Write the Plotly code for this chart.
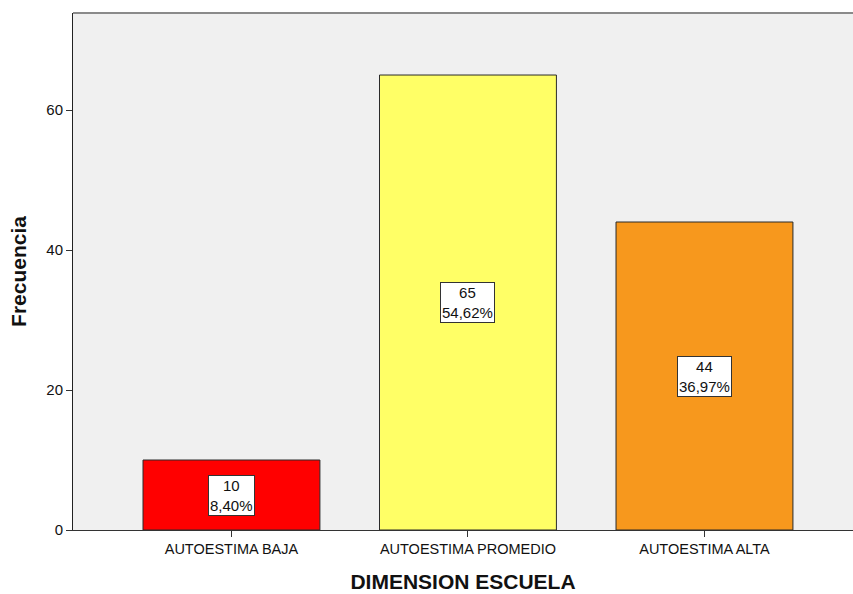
import plotly.graph_objects as go

categories = ["AUTOESTIMA BAJA", "AUTOESTIMA PROMEDIO", "AUTOESTIMA ALTA"]
counts = [10, 65, 44]
percent_labels = ["8,40%", "54,62%", "36,97%"]
colors = ["#FF0000", "#FFFF66", "#F7981D"]
y_ticks = [0, 20, 40, 60]

fig = go.Figure()
fig.add_trace(go.Bar(
    x=list(range(len(categories))), y=counts,
    width=0.748,
    marker=dict(color=colors, line=dict(color="#2a2a2a", width=1)),
    hoverinfo="skip",
))

for i, (c, p) in enumerate(zip(counts, percent_labels)):
    fig.add_annotation(
        x=i, y=c / 2, xref="x", yref="y",
        text=f"{c}<br>{p}", showarrow=False,
        font=dict(family="Liberation Sans, Arial", size=15, color="#111"),
        bgcolor="white", bordercolor="#333", borderwidth=1, borderpad=1,
        align="center",
    )

fig.add_shape(type="line", xref="paper", yref="paper", x0=0, x1=1, y0=1, y1=1,
              line=dict(color="#8a8a8a", width=2))

fig.update_layout(
    width=853, height=594,
    margin=dict(l=73, r=0, t=13, b=64),
    paper_bgcolor="white", plot_bgcolor="#F0F0F0",
    showlegend=False,
    font=dict(family="Liberation Sans, Arial", size=12, color="#111"),
    xaxis=dict(
        range=[-0.67, 2.628], tickmode="array",
        tickvals=list(range(len(categories))), ticktext=categories,
        ticks="outside", ticklen=6, tickcolor="#333", tickwidth=1,
        showline=True, linecolor="#333", linewidth=1,
        showgrid=False, zeroline=False,
        tickfont=dict(size=14.5),
        title=dict(text="<b>DIMENSION ESCUELA</b>", font=dict(size=21), standoff=17),
    ),
    yaxis=dict(
        range=[0, 73.86], tickmode="array", tickvals=y_ticks,
        ticks="outside", ticklen=6, tickcolor="#333", tickwidth=1,
        showline=True, linecolor="#222", linewidth=1,
        showgrid=False, zeroline=False,
        tickfont=dict(size=15),
        title=dict(text="<b>Frecuencia</b>", font=dict(size=21), standoff=13),
    ),
)

fig.write_html("out.html")
